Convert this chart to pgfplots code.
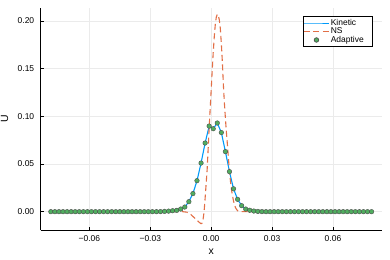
\documentclass[border=0pt]{standalone}
\usepackage{pgfplots}
\pgfplotsset{compat=1.18}
\usepackage{pgfplotstable}
\usepackage{fontspec}
\setmainfont{Liberation Sans}
\definecolor{kin}{HTML}{009AFA}
\definecolor{nscol}{HTML}{E26F46}
\definecolor{adp}{HTML}{3DA44D}
\pgfplotstableread{
x y
-0.079 0
-0.077 0
-0.075 0
-0.073 0
-0.071 0
-0.069 0
-0.067 0
-0.065 0
-0.063 0
-0.061 0
-0.059 0
-0.057 0
-0.055 0
-0.053 0
-0.051 0
-0.049 0
-0.047 0
-0.045 0
-0.043 0
-0.041 0
-0.039 0
-0.037 0
-0.035 0
-0.033 0
-0.031 0
-0.029 0
-0.027 0
-0.025 0.0001
-0.023 0.0003
-0.021 0.0006
-0.019 0.0010
-0.017 0.0014
-0.015 0.0028
-0.013 0.0049
-0.011 0.0105
-0.009 0.0190
-0.007 0.0325
-0.005 0.0510
-0.003 0.0720
-0.001 0.0898
0.001 0.0870
0.003 0.0930
0.005 0.0830
0.007 0.0630
0.009 0.0420
0.011 0.0240
0.013 0.0130
0.015 0.0063
0.017 0.0028
0.019 0.0015
0.021 0.0007
0.023 0.0003
0.025 0.0001
0.027 0
0.029 0
0.031 0
0.033 0
0.035 0
0.037 0
0.039 0
0.041 0
0.043 0
0.045 0
0.047 0
0.049 0
0.051 0
0.053 0
0.055 0
0.057 0
0.059 0
0.061 0
0.063 0
0.065 0
0.067 0
0.069 0
0.071 0
0.073 0
0.075 0
0.077 0
0.079 0
}\adaptive
\pgfplotstableread{
x y
-0.080 0
-0.014 0
-0.012 -0.0005
-0.011 -0.0015
-0.010 -0.0030
-0.009 -0.0050
-0.008 -0.0070
-0.007 -0.0090
-0.006 -0.0110
-0.005 -0.0126
-0.0045 -0.0120
-0.004 -0.0080
-0.0035 0.0000
-0.003 0.0140
-0.0025 0.0290
-0.002 0.0440
-0.0015 0.0660
-0.001 0.0880
-0.0005 0.1080
0.000 0.1280
0.0005 0.1480
0.001 0.1670
0.0015 0.1830
0.002 0.1960
0.0025 0.2040
0.003 0.2070
0.0035 0.2060
0.004 0.2010
0.0045 0.1920
0.005 0.1760
0.0055 0.1570
0.006 0.1330
0.0065 0.1140
0.007 0.0980
0.0075 0.0830
0.008 0.0700
0.0085 0.0560
0.009 0.0420
0.0095 0.0320
0.010 0.0230
0.011 0.0110
0.012 0.0040
0.013 0.0010
0.014 0.0000
0.080 0
}\nsdata
\begin{document}
\begin{tikzpicture}
\useasboundingbox (0,0) rectangle (390bp,260bp);
\begin{axis}[
  at={(40.7bp,30bp)}, anchor=south west,
  width=341bp, height=222bp, scale only axis,
  xmin=-0.084, xmax=0.084, ymin=-0.0192, ymax=0.2136,
  scaled x ticks=false, scaled y ticks=false,
  xtick={-0.06,-0.03,0,0.03,0.06},
  xticklabels={−0.06,−0.03,0.00,0.03,0.06},
  ytick={0,0.05,0.1,0.15,0.2},
  yticklabels={0.00,0.05,0.10,0.15,0.20},
  axis x line*=bottom, axis y line*=left,
  axis line style={-, black, line width=0.7bp},
  tick align=inside, major tick length=3bp,
  tick style={black, line width=0.6bp},
  grid=major,
  major grid style={line width=0.5bp, draw=black!8},
  tick label style={font=\fontsize{8.5}{10}\selectfont},
  yticklabel style={xshift=-3bp},
  xticklabel style={yshift=-2bp},
  xlabel={x}, ylabel={U},
  label style={font=\fontsize{10.5}{12}\selectfont},
  xlabel style={at={(axis description cs:0.5,-0.1126)}, anchor=base},
  ylabel style={at={(axis description cs:-0.1056,0.5)}, anchor=center},
  legend image code/.code={\draw[mark repeat=2,mark phase=2,#1,line width=0.7bp] plot coordinates {(0bp,0bp) (12.5bp,0bp) (25bp,0bp)};},
  legend cell align=left,
  legend style={at={(0.9716,0.964)}, anchor=north east, draw=black, line width=0.5bp,
    fill=white, inner xsep=0.5bp, inner ysep=2.5bp, row sep=0pt,
    font=\fontsize{8.5}{9}\selectfont,
    nodes={inner xsep=1.5bp, inner ysep=0.5bp, text height=6bp, text depth=1.5bp}},
]
\addplot[kin, line width=1.1bp] table {\adaptive};
\addlegendentry{Kinetic}
\addplot[nscol, line width=1.1bp, dash pattern=on 6bp off 3.5bp] table {\nsdata};
\addlegendentry{NS}
\addplot[only marks, mark=*, mark size=2.3bp, draw=black!70, fill=adp!90!white, line width=0.4bp] table {\adaptive};
\addlegendentry{Adaptive\hspace*{6bp}}
\end{axis}
\end{tikzpicture}
\end{document}
